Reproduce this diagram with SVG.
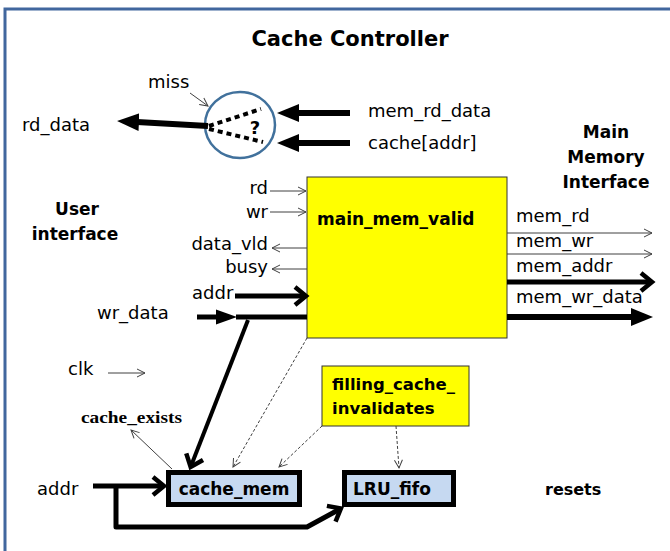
<svg xmlns="http://www.w3.org/2000/svg" width="670" height="551" viewBox="0 0 670 551">
<style>
.sig{font-family:"DejaVu Sans",Verdana,sans-serif;font-size:18px;fill:#000}
.bold{font-family:"DejaVu Sans",Verdana,sans-serif;font-size:17px;font-weight:bold;fill:#000}
.thin{stroke:#404040;stroke-width:1;fill:none;marker-end:url(#thinHead)}
.dash{stroke:#404040;stroke-width:1;fill:none;stroke-dasharray:3 2;marker-end:url(#thinHead)}
.thick{stroke:#000;stroke-width:5;fill:none}
.bus{stroke:#000;stroke-width:6;fill:none}
.yel{fill:#FFFF00;stroke:#333;stroke-width:1}
.blue{fill:#C6D9F1;stroke:#000;stroke-width:5}
</style>
<defs>
<marker id="thinHead" markerUnits="userSpaceOnUse" markerWidth="12" markerHeight="12" viewBox="-10 -6 12 12" refX="0" refY="0" orient="auto">
<path d="M-8,-4 L0,0 L-8,4" fill="none" stroke="#404040" stroke-width="1"/>
</marker>
<marker id="tri" markerUnits="userSpaceOnUse" markerWidth="24" markerHeight="22" viewBox="0 -11 24 22" refX="2" refY="0" orient="auto">
<path d="M0,-9 L22,0 L0,9 Z" fill="#000"/>
</marker>
<marker id="triS" markerUnits="userSpaceOnUse" markerWidth="24" markerHeight="18" viewBox="0 -9 24 18" refX="2" refY="0" orient="auto">
<path d="M0,-7.5 L21,0 L0,7.5 Z" fill="#000"/>
</marker>
<marker id="chev" markerUnits="userSpaceOnUse" markerWidth="20" markerHeight="26" viewBox="-14 -13 20 26" refX="0" refY="0" orient="auto">
<path d="M-10,-9 L1,0 L-10,9" fill="none" stroke="#000" stroke-width="4.5"/>
</marker>
</defs>
<rect width="670" height="551" fill="#fff"/>
<path d="M5,551 L5,9 L670,9" fill="none" stroke="#41679E" stroke-width="3"/>
<text x="350" y="46" text-anchor="middle" style="font-family:'DejaVu Sans',sans-serif;font-size:21px;font-weight:bold">Cache Controller</text>

<g id="mux">
<ellipse cx="240" cy="125" rx="35" ry="33" fill="#fff" stroke="#41719C" stroke-width="2.5"/>
<path d="M209,126 L261,109 M209,129 L263,142" stroke="#000" stroke-width="4" stroke-dasharray="5 4" fill="none"/>
<text x="255" y="134" text-anchor="middle" class="bold" style="font-size:18px">?</text>
</g>

<g id="main_mem_valid">
<rect x="307" y="177" width="200" height="161" class="yel"/>
<text x="317" y="225" class="bold">main_mem_valid</text>
</g>

<g id="filling_cache_invalidates">
<rect x="322" y="366" width="147" height="60" class="yel"/>
<text x="332" y="390" class="bold" style="font-size:16.5px">filling_cache_</text>
<text x="332" y="414" class="bold" style="font-size:16.5px">invalidates</text>
</g>

<g id="cache_mem">
<rect x="168.5" y="472.5" width="131" height="32" class="blue"/>
<text x="234" y="495" text-anchor="middle" class="bold">cache_mem</text>
</g>

<g id="LRU_fifo">
<rect x="344.5" y="472.5" width="109" height="32" class="blue"/>
<text x="353" y="495" class="bold">LRU_fifo</text>
</g>

<g id="connectors">
<path d="M190,93 L208,106" class="thin"/>
<path d="M208,126 L137,122" class="bus" style="marker-end:url(#tri)"/>
<path d="M350,113 L297,113" class="bus" style="marker-end:url(#tri)"/>
<path d="M350,143 L297,143" class="bus" style="marker-end:url(#tri)"/>
<path d="M270,191 L306,191" class="thin"/>
<path d="M270,212 L306,212" class="thin"/>
<path d="M307,248 L272,248" class="thin"/>
<path d="M307,269 L272,269" class="thin"/>
<path d="M235,296 L305,296" class="thick" style="marker-end:url(#chev)"/>
<path d="M197,317 L218,317" class="thick" style="marker-end:url(#triS)"/>
<path d="M236,317 L307,317" class="thick"/>
<path d="M248,320 L191,466" class="thick" style="stroke-width:4;marker-end:url(#chev)"/>
<path d="M507,233 L652,233" class="thin"/>
<path d="M507,254 L652,254" class="thin"/>
<path d="M507,282 L651,282" class="thick" style="marker-end:url(#chev)"/>
<path d="M507,317 L633,317" class="thick" style="stroke-width:6;marker-end:url(#tri)"/>
<path d="M108,373 L145,373" class="thin"/>
<path d="M172,469 L131,430" class="thin"/>
<path d="M93,486 L163,486" class="thick" style="marker-end:url(#chev)"/>
<path d="M116,486 L116,527 L307,527 L340,509" class="thick" style="stroke-linejoin:round;marker-end:url(#chev)"/>
<path d="M307,338 L233,467" class="dash"/>
<path d="M322,426 L279,467" class="dash"/>
<path d="M396,426 L399,468" class="dash"/>
</g>

<text x="148" y="88" class="sig">miss</text>
<text x="22" y="131" class="sig">rd_data</text>
<text x="368" y="117" class="sig">mem_rd_data</text>
<text x="368" y="149" class="sig">cache[addr]</text>
<text x="606" y="138" text-anchor="middle" class="bold">Main</text>
<text x="606" y="163" text-anchor="middle" class="bold">Memory</text>
<text x="606" y="188" text-anchor="middle" class="bold">Interface</text>
<text x="77" y="215" text-anchor="middle" class="bold">User</text>
<text x="75" y="240" text-anchor="middle" class="bold">interface</text>
<text x="268" y="194" text-anchor="end" class="sig">rd</text>
<text x="268" y="218" text-anchor="end" class="sig">wr</text>
<text x="268" y="250" text-anchor="end" class="sig">data_vld</text>
<text x="268" y="273" text-anchor="end" class="sig">busy</text>
<text x="192" y="299" class="sig">addr</text>
<text x="97" y="319" class="sig">wr_data</text>
<text x="516" y="222" class="sig">mem_rd</text>
<text x="516" y="247" class="sig">mem_wr</text>
<text x="516" y="272" class="sig">mem_addr</text>
<text x="516" y="303" class="sig">mem_wr_data</text>
<text x="68" y="375" class="sig">clk</text>
<text x="81" y="423" textLength="101" lengthAdjust="spacingAndGlyphs" style="font-family:'Liberation Serif','Times New Roman',serif;font-size:17px;font-weight:bold">cache_exists</text>
<text x="37" y="495" class="sig">addr</text>
<text x="545" y="495" class="bold" style="font-size:16px">resets</text>
</svg>
